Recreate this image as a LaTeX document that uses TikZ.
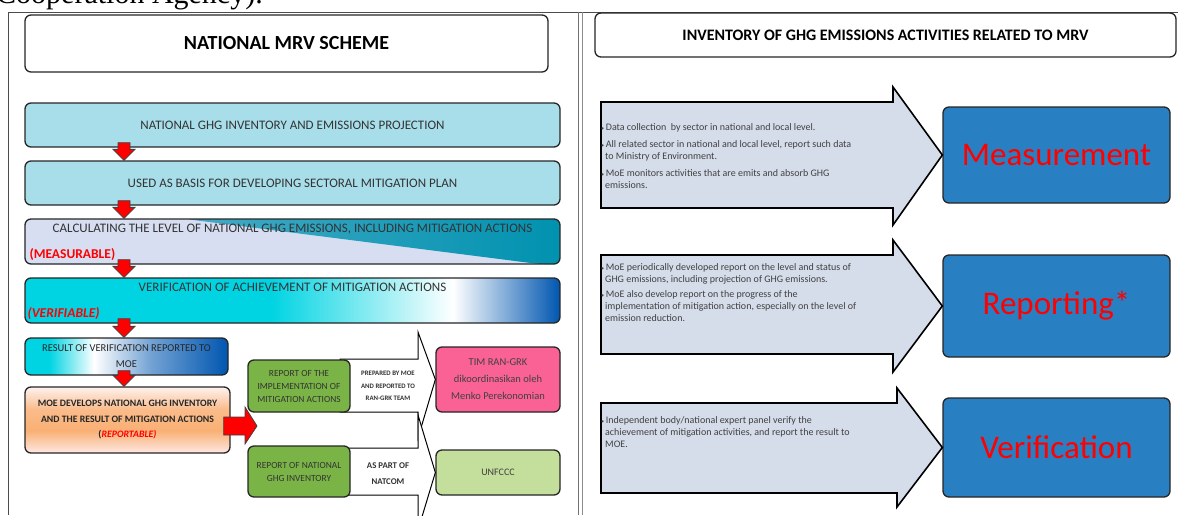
\documentclass[tikz,border=0pt]{standalone}
\usepackage{fontspec}
\setmainfont{Carlito}
\newfontfamily\serifcap{Liberation Serif}
\usepackage{xcolor}
\usetikzlibrary{positioning,calc}

\definecolor{lightcyan}{RGB}{168,222,234}
\definecolor{calclight}{RGB}{216,222,242}
\definecolor{calcteal}{RGB}{0,146,176}
\definecolor{verifcyan}{RGB}{0,212,226}
\definecolor{verifblue}{RGB}{0,86,176}
\definecolor{orangemid}{RGB}{249,176,116}
\definecolor{orangelight}{RGB}{253,232,228}
\definecolor{greenbox}{RGB}{122,180,70}
\definecolor{greenlight}{RGB}{196,222,156}
\definecolor{pinkbox}{RGB}{250,98,150}
\definecolor{mrvblue}{RGB}{40,128,194}
\definecolor{arrowgray}{RGB}{214,221,234}

\pgfdeclarehorizontalshading{verifshade}{100bp}{color(0bp)=(verifcyan); color(25bp)=(verifcyan); color(48bp)=(verifcyan); color(65bp)=(white); color(75bp)=(verifblue); color(100bp)=(verifblue)}
\pgfdeclarehorizontalshading{resultshade}{100bp}{color(0bp)=(verifcyan); color(25bp)=(verifcyan); color(31bp)=(verifcyan); color(42bp)=(white); color(56bp)=(verifblue!55); color(75bp)=(verifblue); color(100bp)=(verifblue)}
\pgfdeclareverticalshading{orangeshade}{100bp}{color(0bp)=(orangelight); color(25bp)=(orangelight); color(42bp)=(orangemid); color(58bp)=(orangemid!80!orangelight); color(75bp)=(orangelight!60!white); color(100bp)=(orangelight!60!white)}

% red block arrow pointing down from one box to the next
\newcommand{\redflow}[2]{%
  \draw[redblock] let \p1=(#1.south), \p2=(#2.north) in
    (118pt,\y1+5pt) -- (130pt,\y1+5pt) -- (130pt,\y2+11pt) -- (135pt,\y2+11pt)
    -- (124pt,\y2) -- (113pt,\y2+11pt) -- (118pt,\y2+11pt) -- cycle;}

\tikzset{
  mrvbox/.style={draw=black!85, line width=1.3pt, rounded corners=6pt, inner sep=0pt, align=center},
  flowtext/.style={font=\fontsize{13}{15}\selectfont, text=black!80, inner sep=0pt},
  redtag/.style={font=\bfseries\fontsize{13.5}{15}\selectfont, text=red, inner sep=0pt},
  redblock/.style={fill=red, draw=black!75, line width=0.8pt},
  whitearrow/.style={fill=white, draw=black, line width=1pt},
  grayarrow/.style={fill=arrowgray, draw=black, line width=1.6pt},
  bullettext/.style={anchor=north west, inner sep=0pt, align=left, text=black!75,
    font=\fontsize{10}{12}\selectfont},
  mrvlabel/.style={font=\fontsize{33}{36}\selectfont, text=red},
}
\newcommand{\bul}{{\fontsize{6}{6}\selectfont\textbullet}\,}

\begin{document}
\begin{tikzpicture}[x=1pt, y=-1pt]
  \useasboundingbox (0,0) rectangle (1178,515);

  % clipped line of the page above
  \begin{scope}
    \clip (0,0) rectangle (600,11);
    \node[anchor=base west, inner sep=0pt, font=\serifcap\fontsize{30}{30}\selectfont] (pagetext) at (-4,3) {Cooperation Agency).};
  \end{scope}

  % frames of the two panels
  \draw[black!70, line width=1pt] (8,515) -- (8,12) -- (1178,12);
  \draw[black!55, line width=1pt] (578,12) -- (578,515);
  \draw[black!45, line width=1pt] (582,12) -- (582,515);

  % ---- left panel: national MRV scheme
  \node[mrvbox, fill=white, minimum width=523, minimum height=57] (title) at (286.5,43.5)
    {\bfseries\fontsize{20}{23}\selectfont NATIONAL MRV SCHEME};

  \node[mrvbox, fill=lightcyan, minimum width=535, minimum height=44] (b1) at (292.5,125) {};
  \node[flowtext] at (b1) {NATIONAL GHG INVENTORY AND EMISSIONS PROJECTION};
  \node[mrvbox, fill=lightcyan, minimum width=535, minimum height=44] (b2) at (292.5,183) {};
  \node[flowtext] at (b2) {USED AS BASIS FOR DEVELOPING SECTORAL MITIGATION PLAN};

  \node[mrvbox, fill=calclight, minimum width=535, minimum height=45,
    path picture={\shade[left color=calcteal!55!calclight, right color=calcteal]
      ($(path picture bounding box.north west)!0.30!(path picture bounding box.north east)$)
      -- (path picture bounding box.north east) -- (path picture bounding box.south east)
      -- ($(path picture bounding box.south west)!0.96!(path picture bounding box.south east)$) -- cycle;}]
    (b3) at (292.5,241.5) {};
  \node[flowtext, below=6pt of b3.north] (b3text) {CALCULATING THE LEVEL OF NATIONAL GHG EMISSIONS, INCLUDING MITIGATION ACTIONS};
  \node[redtag, anchor=south west] (measurable) at ($(b3.south west)+(5,-4)$) {(MEASURABLE)};

  \node[mrvbox, shade, shading=verifshade, minimum width=535, minimum height=45] (b4) at (292.5,300.5) {};
  \node[flowtext, below=6pt of b4.north] (b4text) {VERIFICATION OF ACHIEVEMENT OF MITIGATION ACTIONS};
  \node[redtag, font=\bfseries\itshape\fontsize{13.5}{15}\selectfont, anchor=south west] (verifiable)
    at ($(b4.south west)+(3,-4)$) {(VERIFIABLE)};

  \node[mrvbox, shade, shading=resultshade, minimum width=203, minimum height=37,
    font=\fontsize{10.5}{16}\selectfont, text=black!85] (b5) at (126.5,356.5)
    {RESULT OF VERIFICATION REPORTED TO\\MOE};
  \node[mrvbox, shade, shading=orangeshade, minimum width=205, minimum height=66,
    font=\bfseries\fontsize{9.8}{15.5}\selectfont, text=black!85] (b6) at (127.5,420)
    {MOE DEVELOPS NATIONAL GHG INVENTORY\\AND THE RESULT OF MITIGATION ACTIONS\\(\textcolor{red}{\itshape REPORTABLE)}};

  % targets of the reports
  \node[mrvbox, fill=pinkbox, minimum width=124, minimum height=65,
    font=\fontsize{10.5}{17}\selectfont, text=black!75] (pink) at (498,379.5)
    {TIM RAN-GRK\\dikoordinasikan oleh\\Menko Perekonomian};
  \node[mrvbox, fill=greenlight, minimum width=124, minimum height=45,
    font=\fontsize{10}{12}\selectfont, text=black!75] (unfccc) at (498,472.5) {UNFCCC};

  % white arrows towards the targets
  \draw[whitearrow] (340,359) -- (418,359) -- (418,332) -- (pink.west) -- (418,438) -- (418,412) -- (340,412) -- cycle;
  \draw[whitearrow] (340,448) -- (418,448) -- (418,415) -- (unfccc.west) -- (418,530) -- (418,495) -- (340,495) -- cycle;
  \node[inner sep=0pt, align=center, font=\bfseries\fontsize{6.8}{12.5}\selectfont, text=black!80] (prepared) at (388,386)
    {PREPARED BY MOE\\AND REPORTED TO\\RAN-GRK TEAM};
  \node[inner sep=0pt, align=center, font=\bfseries\fontsize{8.8}{16}\selectfont, text=black!80] (natcom) at (388,474)
    {AS PART OF\\NATCOM};

  \node[mrvbox, fill=greenbox, minimum width=102, minimum height=52,
    font=\fontsize{9.4}{13}\selectfont, text=black!80] (ga) at (299,386)
    {REPORT OF THE\\IMPLEMENTATION OF\\MITIGATION ACTIONS};
  \node[mrvbox, fill=greenbox, minimum width=102, minimum height=51,
    font=\fontsize{9.4}{13}\selectfont, text=black!80] (gb) at (299,471.5)
    {REPORT OF NATIONAL\\GHG INVENTORY};

  % red flow arrows
  \redflow{b1}{b2}
  \redflow{b2}{b3}
  \redflow{b3}{b4}
  \redflow{b4}{b5}
  \redflow{b5}{b6}
  \coordinate (rtip) at (257,426);
  \draw[redblock] let \p1=(b6.east), \p2=(rtip) in
    (\x1-7pt,\y2+9pt) -- (\x2-12pt,\y2+9pt) -- (\x2-12pt,\y2+19pt) -- (\p2)
    -- (\x2-12pt,\y2-18pt) -- (\x2-12pt,\y2-9pt) -- (\x1-7pt,\y2-9pt) -- cycle;

  % ---- right panel: inventory activities
  \node[mrvbox, fill=white, minimum width=581, minimum height=44] (rtitle) at (885.5,35)
    {\bfseries\fontsize{16}{19}\selectfont INVENTORY OF GHG EMISSIONS ACTIVITIES RELATED TO MRV};

  \node[mrvbox, fill=mrvblue, minimum width=227, minimum height=96, mrvlabel] (m) at (1056.5,155) {Measurement};
  \node[mrvbox, fill=mrvblue, minimum width=227, minimum height=102, mrvlabel] (r) at (1056.5,306) {Reporting*};
  \node[mrvbox, fill=mrvblue, minimum width=227, minimum height=99, mrvlabel] (v) at (1056.5,447.5) {Verification};

  \draw[grayarrow] (601,102) -- (893,102) -- (893,87) -- (m.west) -- (893,225) -- (893,208) -- (601,208) -- cycle;
  \draw[grayarrow] (601,255) -- (893,255) -- (893,240) -- (r.west) -- (893,372) -- (893,354) -- (601,354) -- cycle;
  \draw[grayarrow] (601,403) -- (897,403) -- (897,388) -- (v.west) -- (897,507) -- (897,493) -- (601,493) -- cycle;

  \node[bullettext] (mtext) at (601,123)
    {\bul Data collection\ \ by sector in national and local level.\\[5pt]
     \bul All related sector in national and local level, report such data\\
     \hspace*{4pt}to Ministry of Environment.\\[5pt]
     \bul MoE monitors activities that are emits and absorb GHG\\
     \hspace*{4pt}emissions.};
  \node[bullettext] (rtext) at (601,263)
    {\bul MoE periodically developed report on the level and status of\\
     \hspace*{4pt}GHG emissions, including projection of GHG emissions.\\[3pt]
     \bul MoE also develop report on the progress of the\\
     \hspace*{4pt}implementation of mitigation action, especially on the level of\\
     \hspace*{4pt}emission reduction.};
  \node[bullettext] (vtext) at (601,416)
    {\bul Independent body/national expert panel verify the\\
     \hspace*{4pt}achievement of mitigation activities, and report the result to\\
     \hspace*{4pt}MOE.};
\end{tikzpicture}
\end{document}
